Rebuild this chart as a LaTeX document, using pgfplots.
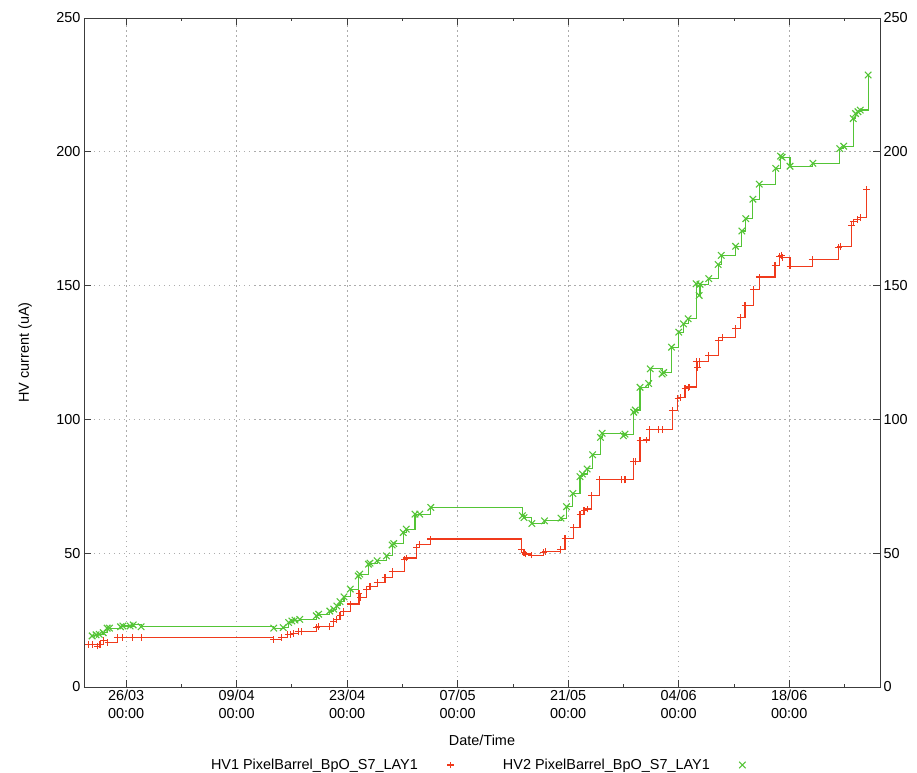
\documentclass[border=0pt]{standalone}
\usepackage{fontspec}
\setmainfont{Liberation Sans}
\usepackage{pgfplots}
\usepackage{pgfplotstable}
\pgfplotsset{compat=1.18}

\definecolor{hvred}{RGB}{240,58,28}
\definecolor{hvgreen}{RGB}{84,196,54}
\definecolor{framegray}{RGB}{60,60,60}

% plot marks that carry their own stroke colour
\pgfdeclareplotmark{hvplus}{%
  \pgfsetstrokecolor{hvred}%
  \pgfpathmoveto{\pgfqpoint{-\pgfplotmarksize}{0pt}}%
  \pgfpathlineto{\pgfqpoint{\pgfplotmarksize}{0pt}}%
  \pgfpathmoveto{\pgfqpoint{0pt}{-\pgfplotmarksize}}%
  \pgfpathlineto{\pgfqpoint{0pt}{\pgfplotmarksize}}%
  \pgfusepathqstroke}
\pgfdeclareplotmark{hvcross}{%
  \pgfsetstrokecolor{hvgreen}%
  \pgfpathmoveto{\pgfqpoint{-.70710678\pgfplotmarksize}{-.70710678\pgfplotmarksize}}%
  \pgfpathlineto{\pgfqpoint{.70710678\pgfplotmarksize}{.70710678\pgfplotmarksize}}%
  \pgfpathmoveto{\pgfqpoint{-.70710678\pgfplotmarksize}{.70710678\pgfplotmarksize}}%
  \pgfpathlineto{\pgfqpoint{.70710678\pgfplotmarksize}{-.70710678\pgfplotmarksize}}%
  \pgfusepathqstroke}

% days counted from 26/03 00:00
\pgfplotstableread{
day   cur
-4.8  16.0
-4.3  16.0
-3.6  15.3
-3.3  15.8
-2.9  17.5
-2.3  16.6
-1.1  18.5
-0.4  18.5
0.8   18.5
1.9   18.5
18.7  17.8
19.7  18.5
20.5  19.5
20.8  19.7
21.2  20.0
21.8  20.6
22.2  20.6
24.1  22.2
24.4  22.5
25.8  22.5
26.3  24.4
26.7  25.3
27.1  26.6
27.5  28.2
28.4  31.0
29.5  35.0
29.7  33.5
30.5  36.6
30.9  37.5
31.8  39.0
32.8  40.9
33.7  43.1
35.3  47.8
35.5  48.2
36.8  52.1
37.2  53.4
38.6  55.3
50.1  51.5
50.4  50.2
50.6  49.7
51.4  49.3
52.9  50.3
53.1  50.6
55.0  51.5
55.6  55.4
56.7  59.6
57.5  64.6
58.0  66.1
58.4  66.5
59.0  71.5
60.0  77.4
62.8  77.4
63.2  77.4
64.3  84.2
64.5  84.4
65.1  92.1
65.9  92.3
66.3  96.1
67.4  96.1
67.9  96.1
69.2  103.3
69.9  107.7
70.2  108.3
70.8  111.4
71.2  112.0
71.4  112.1
72.2  121.5
72.4  119.5
72.6  121.8
73.8  123.9
75.0  129.5
75.5  130.7
77.2  133.9
77.8  138.2
78.4  142.6
79.5  148.5
80.2  153.2
82.2  157.6
82.8  160.9
83.0  161.2
83.2  160.6
84.1  157.3
86.9  159.7
90.2  164.2
90.5  164.5
91.9  172.5
92.1  173.8
92.6  174.7
93.0  175.4
93.8  185.8
}\hvone

\pgfplotstableread{
day   cur
-4.3  19.1
-3.8  19.5
-3.4  19.7
-2.9  20.3
-2.4  22.0
-2.1  22.0
-0.7  22.5
-0.4  22.8
0.5   22.8
0.9   23.2
1.9   22.5
18.7  22.0
19.9  22.2
20.6  24.1
21.0  24.7
21.4  25.0
22.0  25.3
24.1  26.6
24.4  27.2
25.8  28.4
26.3  29.1
26.7  30.3
27.1  31.9
27.6  33.7
28.4  36.6
29.4  41.5
29.6  42.2
30.7  45.9
30.9  46.3
31.8  47.2
33.0  49.0
33.7  53.1
33.9  53.6
35.1  57.7
35.5  59.0
36.6  64.6
37.2  64.6
38.6  67.1
50.2  64.0
50.4  63.3
51.4  61.1
53.0  62.1
55.1  63.1
55.8  67.4
56.6  72.3
57.5  78.6
57.8  79.6
58.4  81.5
59.1  86.8
60.1  93.3
60.3  94.8
63.0  93.9
63.2  94.5
64.3  102.7
64.5  103.5
65.1  112.0
66.2  113.4
66.4  118.9
67.9  117.0
68.1  117.5
69.1  127.0
70.0  132.6
70.6  135.7
71.2  137.6
72.2  150.7
72.6  146.3
72.7  150.5
73.8  152.6
75.0  157.9
75.4  161.3
77.2  164.7
78.0  170.4
78.5  175.0
79.4  182.3
80.2  187.9
82.3  193.8
82.9  198.4
83.1  198.0
84.1  194.6
87.0  195.7
90.4  201.2
90.9  202.1
92.1  212.4
92.4  214.3
92.7  215.0
93.0  215.6
94.0  228.7
}\hvtwo

\begin{document}
\begin{tikzpicture}
\useasboundingbox (-84bp,-86bp) rectangle (833bp,687bp);
\pgfplotsset{
  hvbase/.style={
    scale only axis, width=796bp, height=669bp,
    xmin=-5.33, xmax=95.5, ymin=0, ymax=250,
    ytick={0,50,...,250},
    tick align=inside,
    major tick length=7.5bp, minor tick length=3.5bp,
    tick style={draw=framegray, line width=0.8bp},
    /pgf/number format/assume math mode=true,
    tick label style={font=\fontsize{14.5}{17.5}\selectfont},
  },
}
\begin{axis}[
  hvbase,
  axis line style={draw=framegray, line width=0.9bp},
  xtick={0,14,...,84},
  xticklabels={26/03\\00:00,09/04\\00:00,23/04\\00:00,07/05\\00:00,21/05\\00:00,04/06\\00:00,18/06\\00:00},
  xticklabel style={align=center},
  minor xtick={7,21,...,91},
  xtick pos=both, ytick pos=both,
  grid=major,
  major grid style={gray!65, line width=0.8bp, dash pattern=on 1.5bp off 3.5bp},
  xlabel={Date/Time},
  ylabel={HV current (uA)},
  label style={font=\fontsize{14.5}{17.5}\selectfont},
  x label style={at={(axis description cs:0.5,-0.0792)}, anchor=center},
  y label style={at={(axis description cs:-0.0741,0.5)}, anchor=center, rotate=0},
  legend columns=2,
  legend plot pos=right,
  legend style={at={(0.5,-0.1166)}, anchor=center, draw=none, fill=none,
    font=\fontsize{14.5}{17.5}\selectfont,
    /tikz/every odd column/.append style={column sep=18bp},
    /tikz/every even column/.append style={column sep=38bp}},
  legend image code/.code={%
    \path (0bp,0bp) (24bp,0bp);
    \draw[#1, only marks] plot coordinates {(12bp,0bp)};},
]
\addplot[const plot, color=hvred, line width=1.1bp, mark=hvplus, mark size=3.4bp,
  mark options={solid, color=hvred, line width=1.1bp}] table[x=day, y=cur] {\hvone};
\addlegendentry{HV1 PixelBarrel\_BpO\_S7\_LAY1}
\addplot[const plot, color=hvgreen, line width=1.1bp, mark=hvcross, mark size=4.6bp,
  mark options={solid, color=hvgreen, line width=1.1bp}] table[x=day, y=cur] {\hvtwo};
\addlegendentry{HV2 PixelBarrel\_BpO\_S7\_LAY1}
\end{axis}
% right-hand copy of the current scale
\begin{axis}[
  hvbase,
  axis line style={draw=none},
  xtick=\empty,
  ytick pos=right,
  yticklabel pos=right,
  major tick length=0bp,
]
\end{axis}
\end{tikzpicture}
\end{document}
